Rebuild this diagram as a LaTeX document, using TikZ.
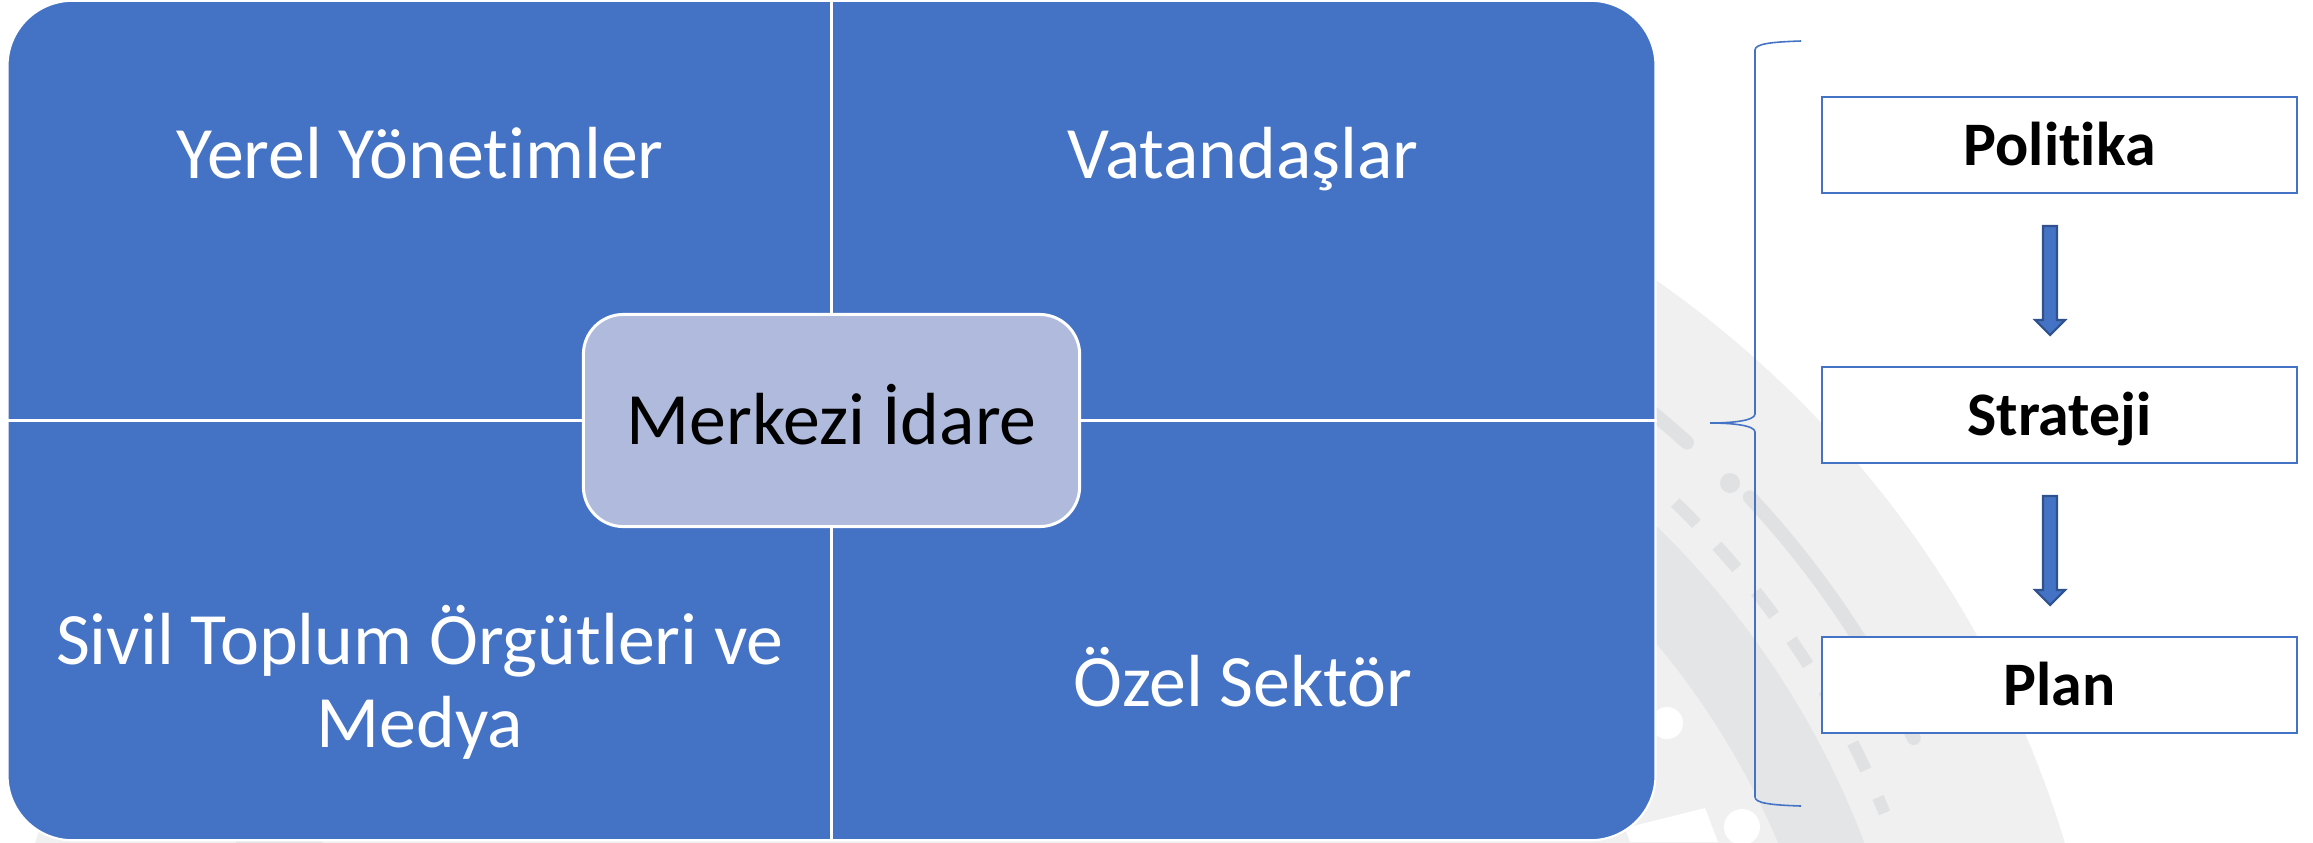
\documentclass[tikz,border=0pt]{standalone}
\usepackage{fontspec}
\setmainfont{Carlito}[RawFeature={-liga;-clig}]
\usetikzlibrary{calc}

\definecolor{quadblue}{HTML}{4472C4}
\definecolor{idarefill}{HTML}{AFBADC}
\definecolor{arrowedge}{HTML}{2F528F}
\definecolor{bglight}{HTML}{F0F0F0}
\definecolor{bgdark}{HTML}{E4E5E7}
\definecolor{bgstripe}{HTML}{E0E1E3}

\tikzset{
  quadtext/.style={text=white, font=\fontsize{21}{23.6}\selectfont, align=center, anchor=base},
  stepbox/.style={draw=quadblue, line width=0.7pt, fill=white, minimum width=4.75cm,
    minimum height=0.96cm, text height=0.45cm, text depth=0.05cm,
    font=\bfseries\fontsize{17.6}{21}\selectfont},
  blockarrow/.style={fill=quadblue, draw=arrowedge, line width=0.6pt},
  divider/.style={white, line width=0.85pt}
}

\begin{document}
\begin{tikzpicture}[x=0.01cm,y=-0.01cm]
\useasboundingbox (0,0) rectangle (2313,842);

% background arcs
\begin{scope}
\clip (0,0) rectangle (2313,842);
\fill[bglight] (1050,1150) circle[radius=1060];
\draw[bgdark, line width=0.8cm] (1050,1150) circle[radius=830];
\draw[bgstripe, line width=0.14cm, line cap=round] (1050,1150) ++(-52:952) arc[start angle=-52, end angle=-48, radius=952];
\draw[bgstripe, line width=0.14cm, line cap=round] (1050,1150) ++(-43:957) arc[start angle=-43, end angle=-25.5, radius=957];
\draw[bgstripe, line width=0.12cm, dash pattern=on 0.3cm off 0.3cm] (1050,1150) ++(-46:900) arc[start angle=-46, end angle=-22, radius=900];
\fill[bgstripe] (1730,483) circle[radius=10];
\fill[white] (1667,723) circle[radius=16];
\fill[white] (1742,827) circle[radius=18];
\fill[white] (1630,842) -- (1625,828) -- (1705,808) -- (1718,842) -- cycle;
\end{scope}

% quadrants
\node[draw=white, line width=0.6pt, fill=quadblue, rounded corners=0.65cm,
  minimum width=16.47cm, minimum height=8.39cm] (grid) at (831.5,420.5) {};
\draw[divider] (grid.north) -- (grid.south);
\draw[divider] (grid.west) -- (grid.east);

\node[quadtext] (yerel) at (420,178) {Yerel Yönetimler};
\node[quadtext] (vatandas) at (1243,178) {Vatandaşlar};
\node[quadtext] (sivil) at (420,747) {Sivil Toplum Örgütleri ve\\Medya};
\node[quadtext] (ozel) at (1243,706) {Özel Sektör};

\node[draw=white, line width=0.85pt, fill=idarefill, rounded corners=0.4cm,
  minimum width=4.96cm, minimum height=2.12cm, text height=0.55cm, text depth=0.07cm,
  font=\fontsize{21}{23.6}\selectfont] (merkez) at (grid.center) {Merkezi İdare};

% brace
\draw[quadblue, line width=0.45pt] (1801,41) .. controls (1770,42) and (1755,44) .. (1755,50)
  -- (1755,414) .. controls (1755,421) and (1730,423) .. (1710,423)
  .. controls (1730,423) and (1755,425) .. (1755,432)
  -- (1755,797) .. controls (1755,803) and (1770,805) .. (1801,806);

% levels
\node[stepbox] (politika) at (2059.5,145) {Politika};
\node[stepbox] (strateji) at (2059.5,415) {Strateji};
\node[stepbox] (plan) at (2059.5,685) {Plan};

\foreach \a/\b in {politika/strateji,strateji/plan}{
\draw[blockarrow] ($(\a.south)!0.5!(\b.north)+(-16.5,-54)$) -- ++(14,0) -- ++(0,94)
  -- ++(8,0) -- ++(-15,15) -- ++(-15,-15) -- ++(8,0) -- cycle;
}
\end{tikzpicture}
\end{document}
